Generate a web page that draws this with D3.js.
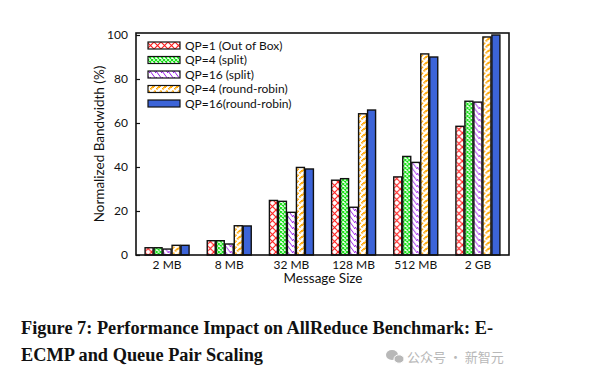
<!DOCTYPE html>
<html><head><meta charset="utf-8">
<script src="https://cdn.jsdelivr.net/npm/d3@7"></script>
<style>body{margin:0;background:#fff;} svg{display:block;}</style>
</head><body>
<script>
const categories = ["2 MB", "8 MB", "32 MB", "128 MB", "512 MB", "2 GB"];
const seriesNames = ["QP=1 (Out of Box)", "QP=4 (split)", "QP=16 (split)", "QP=4 (round-robin)", "QP=16(round-robin)"];
const qp1Out = [3.3, 6.5, 24.8, 34.0, 35.5, 58.5];
const qp4Split = [3.3, 6.5, 24.4, 34.7, 44.8, 69.9];
const qp16Split = [2.7, 5.0, 19.4, 21.7, 42.1, 69.5];
const qp4RR = [4.4, 13.3, 39.8, 64.2, 91.4, 99.1];
const qp16RR = [4.4, 13.2, 39.1, 65.9, 90.0, 100];
const yTicks = [0, 20, 40, 60, 80, 100];
const seriesValues = [qp1Out, qp4Split, qp16Split, qp4RR, qp16RR];

const W = 611, H = 380;
const svg = d3.select("body").append("svg").attr("width", W).attr("height", H);
const defs = svg.append("defs");

function pat(id, size, draw) {
  const p = defs.append("pattern").attr("id", id).attr("patternUnits", "userSpaceOnUse")
    .attr("width", size).attr("height", size);
  p.append("rect").attr("width", size).attr("height", size).attr("fill", "#fff");
  draw(p, size);
}
pat("pRed", 7, (p, s) => {
  p.append("path").attr("d", `M0,0L${s},${s}M${s},0L0,${s}`).attr("stroke", "#ff1a1a").attr("stroke-width", 1.1).attr("fill", "none");
});
pat("pGreen", 4, (p, s) => {
  p.append("path").attr("d", `M0,0L${s},${s}M${s},0L0,${s}`).attr("stroke", "#10e010").attr("stroke-width", 1.1).attr("fill", "none");
});
pat("pPurple", 6, (p, s) => {
  p.append("path").attr("d", `M0,-1L${s},${s+1}M-3,${s-4}L3,${s+2}M${s-3},-2L${s+3},4`).attr("stroke", "#9a1ee8").attr("stroke-width", 1).attr("fill", "none");
});
pat("pOrange", 6, (p, s) => {
  p.append("path").attr("d", `M${s},-1L0,${s+1}M3,${s-4}L-3,${s+2}M${s+3},-2L${s-3},4`).attr("stroke", "#ffa500").attr("stroke-width", 1).attr("fill", "none");
});
const fills = ["url(#pRed)", "url(#pGreen)", "url(#pPurple)", "url(#pOrange)", "#3c64d8"];

const plot = {left: 136, right: 509, top: 33, bottom: 255};
const y = d3.scaleLinear().domain([0, 100]).range([plot.bottom, plot.bottom - 220]);
const x0 = d3.scaleBand().domain(categories).range([plot.left, plot.right]).paddingInner(0).paddingOuter(0);
const x1 = d3.scaleBand().domain(d3.range(seriesNames.length)).range([0, 45]).padding(0);
const groupOffset = (x0.bandwidth() - 45) / 2;

const font = "'Lato', 'Open Sans', sans-serif";

// bars
categories.forEach((c, ci) => {
  const g = svg.append("g").attr("transform", `translate(${x0(c) + groupOffset},0)`);
  seriesValues.forEach((vals, si) => {
    g.append("rect")
      .attr("x", x1(si) + 0.5).attr("width", x1.bandwidth() - 1)
      .attr("y", y(vals[ci])).attr("height", y(0) - y(vals[ci]))
      .attr("fill", fills[si]).attr("stroke", "#111").attr("stroke-width", 1.4);
  });
});

// frame
svg.append("rect").attr("x", plot.left).attr("y", plot.top)
  .attr("width", plot.right - plot.left).attr("height", plot.bottom - plot.top)
  .attr("fill", "none").attr("stroke", "#111").attr("stroke-width", 1.6);

// y axis
const yAxis = d3.axisLeft(y).tickValues(yTicks).tickSize(-4).tickPadding(8);
const ya = svg.append("g").attr("transform", `translate(${plot.left},0)`).call(yAxis);
ya.select(".domain").remove();
ya.selectAll("line").attr("stroke", "#111").attr("stroke-width", 1.2);
ya.selectAll("text").attr("font-family", font).attr("font-size", 12).attr("fill", "#111");

// x axis
const xAxis = d3.axisBottom(x0).tickSize(0).tickPadding(5);
const xa = svg.append("g").attr("transform", `translate(0,${plot.bottom})`).call(xAxis);
xa.select(".domain").remove();
xa.selectAll("text").attr("font-family", font).attr("font-size", 12).attr("fill", "#111");

svg.append("text").attr("x", 323).attr("y", 283).attr("text-anchor", "middle")
  .attr("font-family", font).attr("font-size", 13.5).attr("fill", "#111").text("Message Size");
svg.append("text").attr("transform", "translate(104,144) rotate(-90)").attr("text-anchor", "middle")
  .attr("font-family", font).attr("font-size", 13.5).attr("fill", "#111").text("Normalized Bandwidth (%)");

// legend
const leg = svg.append("g");
seriesNames.forEach((n, i) => {
  const yy = 45.5 + i * 14.5;
  leg.append("rect").attr("x", 148).attr("y", yy - 3.5).attr("width", 32).attr("height", 7)
    .attr("fill", fills[i]).attr("stroke", "#111").attr("stroke-width", 1.2);
  leg.append("text").attr("x", 185).attr("y", yy + 4.3).attr("font-family", font)
    .attr("font-size", 12).attr("fill", "#111").text(n);
});

// caption
const cap = svg.append("g").attr("font-family", "'Liberation Serif', serif").attr("font-weight", "bold")
  .attr("font-size", 18.4).attr("fill", "#111");
cap.append("text").attr("x", 21).attr("y", 334).attr("textLength", 472).attr("lengthAdjust", "spacingAndGlyphs")
  .text("Figure 7: Performance Impact on AllReduce Benchmark: E-");
cap.append("text").attr("x", 21).attr("y", 361).attr("textLength", 242).attr("lengthAdjust", "spacingAndGlyphs")
  .text("ECMP and Queue Pair Scaling");

// watermark
const wm = svg.append("g").attr("fill", "#b8b8b8");
wm.append("ellipse").attr("cx", 392).attr("cy", 355).attr("rx", 6).attr("ry", 5);
wm.append("ellipse").attr("cx", 399).attr("cy", 359).attr("rx", 5).attr("ry", 4.2).attr("stroke", "#fff").attr("stroke-width", 1);
wm.append("text").attr("x", 407).attr("y", 362).attr("font-family", "'Noto Sans CJK SC', sans-serif")
  .attr("font-size", 13).text("公众号 · 新智元");
</script>
</body></html>
